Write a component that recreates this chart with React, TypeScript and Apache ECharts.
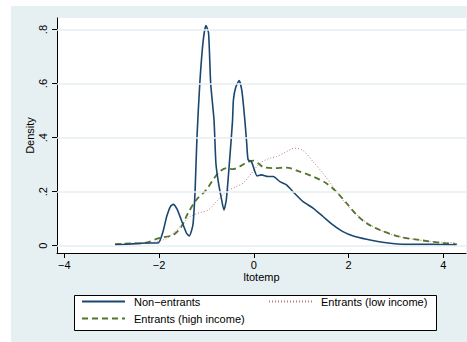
import React, { useEffect, useRef } from "react";
import * as echarts from "echarts";

// Kernel density estimates of ltotemp by group
const nonEntrantsX = [-2.93, -2.6, -2.3, -2.02, -1.92, -1.84, -1.76, -1.7, -1.62, -1.53, -1.42, -1.36, -1.31, -1.28, -1.24, -1.2, -1.14, -1.07, -1.01, -0.955, -0.91, -0.84, -0.8, -0.75, -0.69, -0.63, -0.58, -0.51, -0.45, -0.43, -0.38, -0.31, -0.25, -0.19, -0.15, -0.12, -0.05, 0.07, 0.16, 0.3, 0.41, 0.55, 0.69, 0.86, 1.04, 1.25, 1.46, 1.67, 1.88, 2.1, 2.38, 2.8, 3.22, 3.78, 4.27];
const nonEntrantsY = [0.003, 0.006, 0.01, 0.01, 0.05, 0.107, 0.145, 0.153, 0.135, 0.095, 0.046, 0.036, 0.058, 0.084, 0.2, 0.4, 0.6, 0.756, 0.815, 0.787, 0.6, 0.466, 0.305, 0.237, 0.18, 0.132, 0.17, 0.318, 0.46, 0.54, 0.587, 0.611, 0.571, 0.466, 0.38, 0.318, 0.311, 0.258, 0.262, 0.256, 0.256, 0.237, 0.225, 0.194, 0.163, 0.139, 0.108, 0.077, 0.052, 0.036, 0.024, 0.011, 0.005, 0.005, 0.003];

const lowIncomeX = [-2.93, -2.5, -2.2, -1.84, -1.56, -1.35, -1.14, -0.96, -0.79, -0.58, -0.37, -0.23, -0.05, 0.13, 0.34, 0.48, 0.66, 0.86, 1.04, 1.25, 1.46, 1.67, 1.88, 2.1, 2.31, 2.59, 2.94, 3.36, 3.78, 4.27];
const lowIncomeY = [0.005, 0.008, 0.01, 0.027, 0.07, 0.107, 0.122, 0.132, 0.163, 0.2, 0.219, 0.231, 0.268, 0.305, 0.324, 0.33, 0.345, 0.361, 0.352, 0.311, 0.268, 0.219, 0.169, 0.126, 0.095, 0.064, 0.04, 0.024, 0.015, 0.011];

const highIncomeX = [-2.93, -2.6, -2.3, -2.02, -1.7, -1.53, -1.39, -1.21, -1.0, -0.86, -0.72, -0.58, -0.44, -0.3, -0.15, -0.01, 0.09, 0.2, 0.41, 0.69, 0.97, 1.25, 1.53, 1.74, 1.96, 2.17, 2.38, 2.66, 3.08, 3.5, 3.92, 4.29];
const highIncomeY = [0.006, 0.008, 0.01, 0.027, 0.04, 0.07, 0.12, 0.17, 0.207, 0.244, 0.274, 0.287, 0.283, 0.293, 0.308, 0.315, 0.305, 0.291, 0.287, 0.289, 0.274, 0.256, 0.231, 0.2, 0.157, 0.114, 0.083, 0.058, 0.033, 0.021, 0.011, 0.005];

const seriesNames = ["Non\u2212entrants", "Entrants (low income)", "Entrants (high income)"];

const yTicks = [0, 0.2, 0.4, 0.6, 0.8];
const yTickLabels = ["0", ".2", ".4", ".6", ".8"];
const xTicks = [-4, -2, 0, 2, 4];
const xTickLabels = ["\u22124", "\u22122", "0", "2", "4"];

const FONT = "'Liberation Sans', Arial, sans-serif";
const NAVY = "#1A476F";
const MAROON = "#C07880";
const GREEN = "#55752F";
const BG = "#E6EFF1";

const zip = (xs: number[], ys: number[]) => xs.map((x, i) => [x, ys[i]]);
const pick = (ticks: number[], labels: string[]) => (v: number) => {
  const i = ticks.findIndex((t) => Math.abs(t - v) < 1e-9);
  return i >= 0 ? labels[i] : "";
};

export default function App() {
  const ref = useRef<HTMLDivElement>(null);

  useEffect(() => {
    if (!ref.current) return;
    const chart = echarts.init(ref.current, undefined, { renderer: "svg" });

    const legendBase = {
      orient: "horizontal" as const,
      itemWidth: 43,
      itemHeight: 14,
      padding: 0,
      itemStyle: { opacity: 0 },
      textStyle: { fontFamily: FONT, fontSize: 11, color: "#000", padding: [0, 0, 0, 4] },
      z: 10,
    };

    chart.setOption({
      animation: false,
      backgroundColor: "transparent",
      textStyle: { fontFamily: FONT },
      graphic: [
        {
          type: "rect",
          z: 5,
          silent: true,
          shape: { x: 74.5, y: 295.5, width: 362, height: 35 },
          style: { fill: "#fff", stroke: "#000", lineWidth: 1 },
        },
      ],
      grid: {
        left: 57,
        right: 1,
        top: 18,
        bottom: 89,
        show: true,
        backgroundColor: "#fff",
        borderWidth: 0,
      },
      xAxis: {
        type: "value",
        min: -4.154,
        max: 4.479,
        name: "ltotemp",
        nameLocation: "middle",
        nameGap: 18,
        nameMoveOverlap: false,
        nameTextStyle: { fontFamily: FONT, fontSize: 11, color: "#000" },
        axisLine: { onZero: false, lineStyle: { color: "#000", width: 1 } },
        axisTick: { show: true, length: 5, customValues: xTicks, lineStyle: { color: "#000" } },
        axisLabel: {
          customValues: xTicks,
          formatter: pick(xTicks, xTickLabels),
          fontFamily: FONT,
          fontSize: 11,
          color: "#000",
          margin: 6,
        },
        splitLine: { show: false },
      },
      yAxis: {
        type: "value",
        min: -0.0271,
        max: 0.8427,
        name: "Density",
        nameLocation: "middle",
        nameGap: 22,
        nameMoveOverlap: false,
        nameTextStyle: { fontFamily: FONT, fontSize: 11, color: "#000" },
        axisLine: { show: true, onZero: false, lineStyle: { color: "#000", width: 1 } },
        axisTick: { show: true, length: 5, customValues: yTicks, lineStyle: { color: "#000" } },
        axisLabel: {
          customValues: yTicks,
          formatter: pick(yTicks, yTickLabels),
          rotate: 90,
          fontFamily: FONT,
          fontSize: 11,
          color: "#000",
          margin: 9,
        },
        splitLine: { show: false },
      },
      legend: [
        { ...legendBase, left: 81, top: 296, data: [seriesNames[0]] },
        { ...legendBase, left: 268, top: 296, data: [seriesNames[1]] },
        { ...legendBase, left: 81, top: 313, data: [seriesNames[2]] },
      ],
      series: [
        {
          // horizontal gridlines at the y ticks
          type: "line",
          data: [],
          z: 1,
          silent: true,
          markLine: {
            silent: true,
            symbol: "none",
            label: { show: false },
            lineStyle: { color: BG, width: 1.5, type: "solid" },
            data: yTicks.map((v) => ({ yAxis: v })),
          },
        },
        {
          name: seriesNames[0],
          type: "line",
          data: zip(nonEntrantsX, nonEntrantsY),
          showSymbol: false,
          symbol: "none",
          smooth: 0.2,
          z: 4,
          lineStyle: { color: NAVY, width: 1.6 },
          itemStyle: { color: NAVY },
        },
        {
          name: seriesNames[1],
          type: "line",
          data: zip(lowIncomeX, lowIncomeY),
          showSymbol: false,
          symbol: "none",
          smooth: 0.3,
          z: 3,
          lineStyle: { color: MAROON, width: 1, type: [1, 2] },
          itemStyle: { color: MAROON },
        },
        {
          name: seriesNames[2],
          type: "line",
          data: zip(highIncomeX, highIncomeY),
          showSymbol: false,
          symbol: "none",
          smooth: 0.3,
          z: 3,
          lineStyle: { color: GREEN, width: 1.8, type: [6, 4] },
          itemStyle: { color: GREEN },
        },
      ],
    });

    return () => chart.dispose();
  }, []);

  // white page strip on the left and top, light figure background behind the chart
  return (
    <div style={{ position: "absolute", left: 0, top: 0, width: 467, height: 342, background: "#fff" }}>
      <div style={{ position: "absolute", left: 11, top: 6, width: 456, height: 336, background: BG }} />
      <div
        ref={ref}
        style={{ position: "absolute", left: 0, top: 0, width: 467, height: 342 }}
      />
    </div>
  );
}
